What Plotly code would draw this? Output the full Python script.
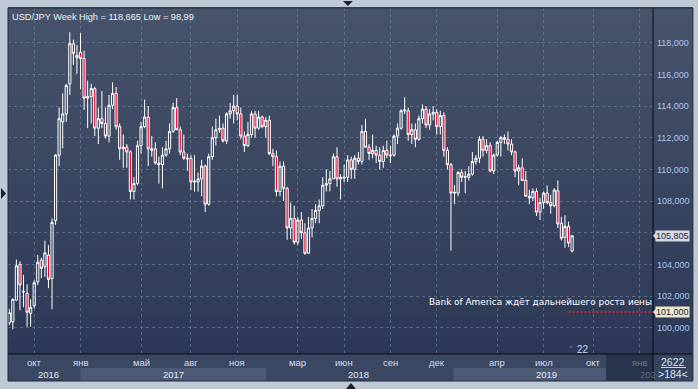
import plotly.graph_objects as go
import pandas as pd

# ---------------- data (weekly USD/JPY candles) ----------------
start_week = "2016-08-15"
opens = [100.30, 100.37, 101.74, 104.00, 102.25, 102.17, 100.91, 101.39, 102.90, 104.27,
         103.85, 104.59, 103.10, 106.76, 110.90, 113.00, 113.50, 115.40, 117.92, 117.20,
         117.40, 117.00, 114.50, 114.60, 115.10, 112.60, 113.20, 112.90, 112.10, 114.05,
         114.80, 112.70, 111.30, 111.40, 111.10, 108.60, 109.10, 111.50, 112.70, 113.30,
         111.20, 111.30, 110.40, 110.30, 110.90, 111.30, 112.40, 113.90, 112.50, 111.10,
         110.65, 110.70, 109.20, 109.20, 109.40, 110.20, 107.80, 110.80, 112.00, 112.50,
         112.60, 111.80, 113.50, 113.70, 114.00, 113.50, 112.10, 111.50, 112.20, 113.50,
         112.60, 113.30, 112.70, 113.10, 111.00, 110.80, 108.60, 110.20, 108.80, 106.30,
         106.90, 105.40, 106.80, 106.00, 104.70, 106.30, 106.90, 107.40, 107.70, 109.00,
         109.10, 109.40, 110.80, 109.40, 109.45, 109.50, 110.60, 110.00, 110.70, 110.50,
         112.40, 111.40, 111.00, 111.20, 110.90, 110.50, 111.20, 110.85, 110.90, 112.10,
         112.60, 113.70, 113.70, 112.20, 112.50, 111.90, 113.20, 113.80, 112.80, 113.50,
         113.60, 112.70, 113.40, 111.20, 110.30, 108.50, 108.50, 109.80, 109.50, 109.50,
         109.70, 110.50, 110.70, 111.90, 111.20, 111.50, 109.90, 110.90, 111.70, 112.00,
         111.90, 111.60, 111.10, 109.90, 110.10, 109.30, 108.30, 108.20, 108.60, 107.30,
         107.90, 108.50, 107.90, 107.70, 108.65, 106.60, 105.70, 106.40, 104.85]
highs = [101.20, 101.85, 104.30, 104.20, 103.33, 102.74, 101.79, 103.00, 104.60, 104.42,
         105.50, 105.22, 106.90, 110.95, 113.90, 114.80, 115.40, 118.66, 118.20, 117.85,
         118.60, 117.50, 115.60, 115.40, 115.20, 113.90, 114.95, 113.90, 114.70, 115.50,
         115.20, 112.90, 112.20, 111.60, 111.20, 109.50, 111.80, 113.00, 114.40, 114.00,
         112.10, 111.70, 110.80, 111.40, 111.80, 112.90, 114.20, 114.50, 112.70, 112.20,
         111.00, 110.90, 110.90, 109.80, 110.60, 110.30, 111.00, 112.70, 113.20, 113.40,
         112.90, 113.60, 114.20, 114.70, 114.70, 113.90, 112.40, 113.00, 113.70, 113.70,
         113.70, 113.40, 113.30, 113.40, 111.30, 111.20, 110.50, 110.50, 108.90, 107.90,
         107.70, 107.00, 107.30, 106.60, 107.00, 107.50, 107.80, 108.10, 109.50, 110.00,
         109.90, 111.00, 111.40, 109.70, 110.30, 110.90, 110.80, 110.90, 111.10, 112.80,
         113.20, 111.60, 112.20, 111.50, 111.40, 111.50, 111.80, 111.50, 112.20, 112.90,
         113.80, 114.55, 113.90, 112.90, 112.90, 113.40, 114.10, 114.00, 113.80, 114.00,
         113.80, 113.70, 113.60, 111.40, 110.40, 109.00, 109.90, 110.00, 109.90, 110.20,
         111.10, 110.90, 112.10, 112.10, 111.90, 111.70, 111.00, 111.80, 112.10, 112.20,
         112.40, 111.90, 111.20, 110.30, 110.70, 109.90, 108.70, 108.80, 108.80, 108.20,
         108.60, 108.98, 108.40, 108.80, 109.30, 107.00, 107.10, 106.70, 105.85]
lows = [100.15, 99.90, 101.70, 101.10, 101.30, 100.06, 100.06, 101.22, 102.70, 103.12,
        103.20, 102.50, 101.16, 106.50, 110.20, 111.33, 113.00, 114.70, 116.60, 116.05,
        115.05, 113.75, 112.60, 112.90, 112.10, 111.60, 112.60, 111.95, 111.70, 113.80,
        112.50, 110.60, 110.10, 110.10, 108.10, 108.10, 109.00, 111.00, 112.60, 110.20,
        110.80, 110.30, 109.10, 108.80, 110.80, 111.00, 112.30, 112.50, 110.90, 110.60,
        109.90, 108.70, 108.60, 108.60, 108.30, 107.30, 107.70, 110.60, 111.50, 112.30,
        111.70, 111.60, 113.20, 112.90, 113.10, 111.90, 111.10, 111.40, 112.00, 112.00,
        112.50, 112.60, 112.00, 110.90, 110.20, 108.30, 108.30, 108.00, 105.55, 105.60,
        105.25, 105.20, 105.60, 104.60, 104.70, 105.70, 106.60, 106.60, 107.50, 108.60,
        108.60, 109.40, 108.90, 108.10, 109.20, 109.20, 109.40, 109.40, 110.30, 110.30,
        111.40, 110.60, 110.70, 110.40, 110.00, 110.10, 110.70, 110.40, 110.80, 111.60,
        112.50, 113.50, 111.80, 111.60, 111.40, 111.80, 112.90, 112.60, 112.50, 113.10,
        112.20, 112.20, 110.80, 110.00, 104.87, 107.80, 108.30, 109.20, 108.50, 109.30,
        109.60, 110.30, 110.40, 110.80, 111.00, 109.80, 109.70, 110.80, 110.80, 111.60,
        111.20, 110.90, 109.50, 109.00, 109.30, 108.30, 107.80, 108.00, 107.05, 106.80,
        107.50, 107.80, 107.20, 107.60, 106.30, 105.50, 105.05, 105.10, 104.75]
closes = [100.95, 101.79, 103.91, 102.70, 102.30, 100.97, 101.29, 102.85, 104.13, 103.75,
          104.73, 103.05, 106.65, 110.90, 113.20, 113.50, 115.30, 117.95, 117.33, 117.05,
          117.00, 114.50, 114.60, 115.10, 112.60, 113.20, 112.90, 112.10, 114.05, 114.80,
          112.70, 111.30, 111.40, 111.10, 108.60, 109.10, 111.50, 112.70, 113.30, 111.30,
          111.30, 110.40, 110.30, 110.90, 111.30, 112.40, 113.90, 112.50, 111.10, 110.70,
          110.70, 109.20, 109.25, 109.40, 110.20, 107.80, 110.80, 112.00, 112.50, 112.60,
          111.80, 113.50, 113.70, 114.00, 113.50, 112.10, 111.50, 112.20, 113.50, 112.60,
          113.30, 112.70, 113.10, 111.00, 110.80, 108.60, 110.20, 108.80, 106.30, 106.90,
          105.40, 106.80, 106.00, 104.70, 106.30, 106.90, 107.40, 107.70, 109.00, 109.10,
          109.40, 110.80, 109.40, 109.50, 109.50, 110.60, 110.00, 110.70, 110.50, 112.40,
          111.40, 111.00, 111.20, 110.90, 110.50, 111.20, 110.90, 110.90, 112.10, 112.60,
          113.70, 113.75, 112.20, 112.50, 111.90, 113.20, 113.80, 112.80, 113.50, 113.60,
          112.70, 113.40, 111.20, 110.30, 108.50, 108.55, 109.80, 109.50, 109.55, 109.70,
          110.50, 110.70, 111.90, 111.20, 111.50, 109.90, 110.90, 111.70, 112.00, 111.90,
          111.60, 111.10, 109.90, 110.10, 109.30, 108.30, 108.20, 108.60, 107.30, 107.90,
          108.50, 107.90, 107.70, 108.70, 106.55, 105.65, 106.40, 105.35, 105.805]

month_ticks = ["2016-10-03", "2017-01-02", "2017-05-01", "2017-08-07", "2017-11-06",
               "2018-03-05", "2018-06-04", "2018-09-03", "2018-12-03", "2019-04-01",
               "2019-07-01", "2019-10-07", "2020-01-06"]
month_labels = ["окт", "янв", "май", "авг", "ноя", "мар", "июн", "сен", "дек", "апр",
                "июл", "окт", "янв"]
year_edges = ["2016-08-12", "2017-01-02", "2018-01-01", "2019-01-05", "2020-01-06", "2021-01-04"]
year_label_dates = ["2016-11-01", "2017-07-03", "2018-07-02", "2019-07-06", "2020-01-02"]
year_labels = ["2016", "2017", "2018", "2019", "202"]
future_start = "2019-11-01"
y_ticks = [100, 102, 104, 106, 108, 110, 112, 114, 116, 118]
y_tick_text = ["100,000", "102,000", "104,000", "", "108,000", "110,000",
               "112,000", "114,000", "116,000", "118,000"]
last_price = 105.805
last_price_text = "105,805"
target_price = 101.0
target_text = "101,000"
title_text = "USD/JPY Week High = 118,665 Low = 98,99"
news_text = "Bank of America ждёт дальнейшего роста иены"

x_range = ["2016-08-12 12:00", "2020-02-01"]
y_range = [98.34, 120.19]

weeks = pd.date_range(start_week, periods=len(opens), freq="7D")

# ---------------- geometry helpers (decoration only) ----------------
W, H = 698, 389
L, T, R, B = 8, 8, 655, 354
PW, PH = R - L, B - T


def px(xp):
    return (xp - L) / PW


def py(yp):
    return (B - yp) / PH


FONT = "Liberation Sans"

fig = go.Figure()
fig.add_trace(go.Candlestick(
    x=weeks, open=opens, high=highs, low=lows, close=closes,
    increasing=dict(line=dict(color="#ffffff", width=1), fillcolor="rgba(0,0,0,0)"),
    decreasing=dict(line=dict(color="#ffffff", width=1), fillcolor="#ee0028"),
    whiskerwidth=0, hoverinfo="skip", showlegend=False,
))

shapes = []
# gradient background for plot + right panel
N = 46
top_c = (72, 84, 108)
bot_c = (42, 54, 84)
y_top = py(T)
y_bot = py(381)
for i in range(N):
    f0 = i / N
    f1 = (i + 1) / N
    t = (f0 + f1) / 2
    c = tuple(int(round(bot_c[k] + (top_c[k] - bot_c[k]) * t)) for k in range(3))
    shapes.append(dict(type="rect", xref="paper", yref="paper", layer="below",
                       x0=0, x1=px(695),
                       y0=y_bot + (y_top - y_bot) * f0,
                       y1=y_bot + (y_top - y_bot) * f1 + 0.003,
                       fillcolor="rgb(%d,%d,%d)" % c, line=dict(width=0)))
# bottom axis area
shapes.append(dict(type="rect", xref="paper", yref="paper", layer="below",
                   x0=0, x1=1, y0=py(381), y1=0, fillcolor="rgb(58,72,100)", line=dict(width=0)))
shapes.append(dict(type="rect", xref="paper", yref="paper", layer="below",
                   x0=1, x1=px(695), y0=py(381), y1=0, fillcolor="rgb(54,68,96)", line=dict(width=0)))
for i in (1, 3):
    shapes.append(dict(type="rect", xref="x", yref="paper", layer="below",
                       x0=year_edges[i], x1=year_edges[i + 1], y0=py(381), y1=py(368),
                       fillcolor="rgb(76,90,118)", line=dict(width=0)))
shapes.append(dict(type="rect", xref="x", yref="paper", layer="below",
                   x0=future_start, x1=x_range[1], y0=py(381), y1=0,
                   fillcolor="rgb(40,51,77)", line=dict(width=0)))
# axis lines
shapes.append(dict(type="line", xref="paper", yref="paper", x0=0, x1=px(695), y0=0, y1=0,
                   line=dict(color="#080b12", width=1)))
shapes.append(dict(type="line", xref="paper", yref="paper", x0=1, x1=1, y0=py(381), y1=1,
                   line=dict(color="#080b12", width=1)))
shapes.append(dict(type="rect", xref="paper", yref="paper", x0=0, x1=px(695), y0=py(381), y1=1,
                   line=dict(color="#222a3c", width=1), fillcolor="rgba(0,0,0,0)"))
# target dotted line
shapes.append(dict(type="line", xref="x", yref="y", x0=weeks[-2], x1=x_range[1],
                   y0=target_price, y1=target_price,
                   line=dict(color="#c4273f", width=2, dash="2px,2px")))
# price tag pointers
for yv, col in ((last_price, "#d5dae2"), (target_price, "#ece8cc")):
    shapes.append(dict(type="path", xref="paper", yref="y",
                       path="M %f,%f L %f,%f L %f,%f Z" % (1.0, yv, px(659), yv + 0.3, px(659), yv - 0.3),
                       fillcolor=col, line=dict(width=0)))
# underline in corner box
shapes.append(dict(type="line", xref="paper", yref="paper", x0=px(663), x1=px(688),
                   y0=py(367.5), y1=py(367.5), line=dict(color="#c8d6ea", width=1)))
# frame triangles
shapes.append(dict(type="path", xref="paper", yref="paper",
                   path="M %f,%f L %f,%f L %f,%f Z" % (px(1), py(188), px(6), py(193.5), px(1), py(199)),
                   fillcolor="#1a1f2a", line=dict(width=0)))
shapes.append(dict(type="path", xref="paper", yref="paper",
                   path="M %f,%f L %f,%f L %f,%f Z" % (px(344), py(1), px(354), py(1), px(349), py(6)),
                   fillcolor="#1a1f2a", line=dict(width=0)))
shapes.append(dict(type="path", xref="paper", yref="paper",
                   path="M %f,%f L %f,%f L %f,%f Z" % (px(347), py(389), px(357), py(389), px(352), py(383)),
                   fillcolor="#1a1f2a", line=dict(width=0)))

annotations = []
annotations.append(dict(text=title_text, xref="paper", yref="paper", x=px(10), y=py(10),
                        xanchor="left", yanchor="top", showarrow=False,
                        font=dict(family=FONT, size=9.2, color="#eef2f8")))
for d, lab in zip(month_ticks, month_labels):
    future = pd.Timestamp(d) >= pd.Timestamp(future_start)
    annotations.append(dict(text=lab, xref="x", yref="paper", x=d, y=py(362.5),
                            xanchor="center", yanchor="middle", showarrow=False,
                            font=dict(family=FONT, size=9.5,
                                      color="#6b7692" if future else "#d6deeb")))
for d, lab in zip(year_label_dates, year_labels):
    future = pd.Timestamp(d) >= pd.Timestamp(future_start)
    annotations.append(dict(text=lab, xref="x", yref="paper", x=d, y=py(374.5),
                            xanchor="left" if future else "center", yanchor="middle",
                            showarrow=False,
                            font=dict(family=FONT, size=9.5,
                                      color="#5f6a86" if future else "#e2e8f2")))
annotations.append(dict(text=last_price_text, xref="paper", yref="y", x=px(657), y=last_price,
                        xanchor="left", yanchor="middle", showarrow=False, bgcolor="#d5dae2",
                        borderpad=0, font=dict(family=FONT, size=9, color="#1c2440")))
annotations.append(dict(text=target_text, xref="paper", yref="y", x=px(657), y=target_price,
                        xanchor="left", yanchor="middle", showarrow=False, bgcolor="#ece8cc",
                        borderpad=0, font=dict(family=FONT, size=9, color="#1c2440")))
annotations.append(dict(text=news_text, xref="paper", yref="y", x=px(656), y=target_price,
                        xanchor="right", yanchor="bottom", yshift=3, showarrow=False,
                        font=dict(family="DejaVu Sans", size=8.9, color="#ffffff")))
annotations.append(dict(text="22", xref="paper", yref="paper", x=px(585), y=py(349),
                        xanchor="center", yanchor="middle", showarrow=False,
                        font=dict(family=FONT, size=10, color="#c4d6f0")))
annotations.append(dict(text="▲", xref="paper", yref="paper", x=px(573), y=py(346),
                        xanchor="center", yanchor="middle", showarrow=False,
                        font=dict(family=FONT, size=6, color="#56617c")))
annotations.append(dict(text="2622", xref="paper", yref="paper", x=px(675), y=py(361.5),
                        xanchor="center", yanchor="middle", showarrow=False,
                        font=dict(family=FONT, size=10.5, color="#d6e2f2")))
annotations.append(dict(text=">184<", xref="paper", yref="paper", x=px(675.5), y=py(374.3),
                        xanchor="center", yanchor="middle", showarrow=False,
                        font=dict(family=FONT, size=10.5, color="#d6e2f2")))

fig.update_layout(
    width=W, height=H, autosize=False,
    margin=dict(l=L, r=W - R, t=T, b=H - B, pad=0),
    paper_bgcolor="#bfc9d6", plot_bgcolor="rgba(0,0,0,0)",
    boxgap=0.12,
    shapes=shapes, annotations=annotations,
    showlegend=False, hovermode=False,
    xaxis=dict(type="date", range=x_range, rangeslider=dict(visible=False),
               tickvals=month_ticks, showticklabels=False, ticks="",
               showgrid=True, gridcolor="rgba(120,138,170,0.55)", griddash="3px,3px",
               gridwidth=1, zeroline=False, showline=False, fixedrange=True),
    yaxis=dict(range=y_range, side="right", tickvals=y_ticks, ticktext=y_tick_text,
               ticks="", ticklabelstandoff=3,
               tickfont=dict(family=FONT, size=9, color="#a9c5ee"),
               showgrid=True, gridcolor="rgba(120,138,170,0.55)", griddash="3px,3px",
               gridwidth=1, zeroline=False, showline=False, fixedrange=True),
)

fig.write_html("out.html", config={"displayModeBar": False, "staticPlot": True},
               post_script="document.body.style.margin='0';")
